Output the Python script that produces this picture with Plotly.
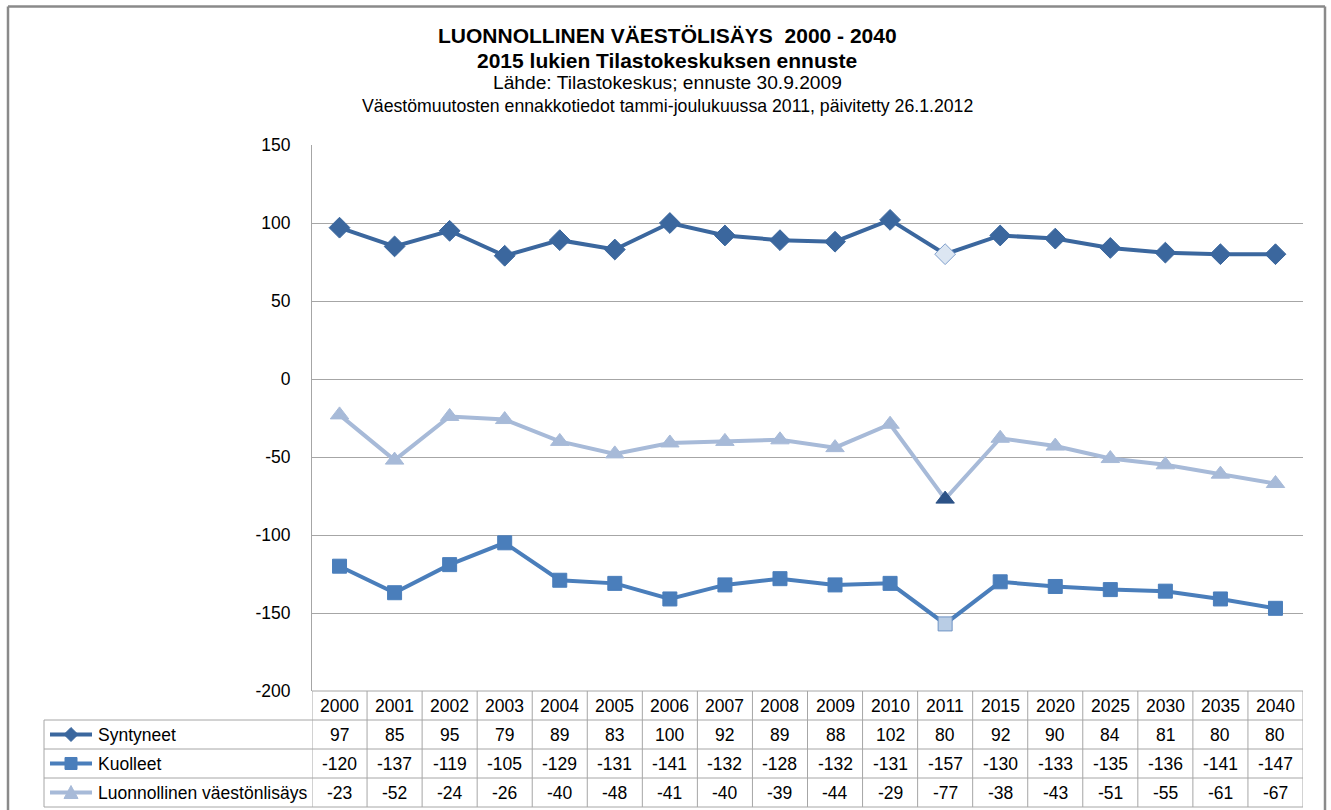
import plotly.graph_objects as go

# ---------------- data ----------------
years = ["2000", "2001", "2002", "2003", "2004", "2005", "2006", "2007", "2008",
         "2009", "2010", "2011", "2015", "2020", "2025", "2030", "2035", "2040"]
syntyneet = [97, 85, 95, 79, 89, 83, 100, 92, 89, 88, 102, 80, 92, 90, 84, 81, 80, 80]
kuolleet = [-120, -137, -119, -105, -129, -131, -141, -132, -128, -132, -131, -157,
            -130, -133, -135, -136, -141, -147]
lisays = [-23, -52, -24, -26, -40, -48, -41, -40, -39, -44, -29, -77, -38, -43, -51,
          -55, -61, -67]
series_names = ["Syntyneet", "Kuolleet", "Luonnollinen väestönlisäys"]
y_ticks = [150, 100, 50, 0, -50, -100, -150, -200]
y_tick_labels = ["150", "100", "50", "0", "-50", "-100", "-150", "-200"]
special_year = "2011"

title_lines = [
    ("LUONNOLLINEN VÄESTÖLISÄYS  2000 - 2040", True, 21),
    ("2015 lukien Tilastokeskuksen ennuste", True, 21),
    ("Lähde: Tilastokeskus; ennuste 30.9.2009", False, 19.2),
    ("Väestömuutosten ennakkotiedot tammi-joulukuussa 2011, päivitetty 26.1.2012", False, 17.7),
]

# ---------------- geometry helpers (screen pixels) ----------------
FW, FH = 1331, 810
L, R, T, B = 312, 1303, 145, 691   # plot area in px
PW, PH = R - L, B - T


def px_x(px):
    return (px - L) / PW


def px_y(py):
    return (B - py) / PH


FONT = "Liberation Sans, Arial, sans-serif"
C_SYN = "#3b679e"
C_KUO = "#4a7ebb"
C_LIS = "#a7bad8"
GRID = "#a6a6a6"
TABLE = "#a6a6a6"
FS = 17.5

si = years.index(special_year)


def colors(base, special):
    return [special if i == si else base for i in range(len(years))]


fig = go.Figure()

fig.add_trace(go.Scatter(
    x=years, y=syntyneet, mode="lines+markers", name=series_names[0],
    line=dict(color=C_SYN, width=4),
    marker=dict(symbol="diamond", size=16, color=colors(C_SYN, "#dce6f2"),
                line=dict(width=1, color=colors(C_SYN, "#7f9fcc"))),
    cliponaxis=False, showlegend=False))

fig.add_trace(go.Scatter(
    x=years, y=kuolleet, mode="lines+markers", name=series_names[1],
    line=dict(color=C_KUO, width=4),
    marker=dict(symbol="square", size=14, color=colors(C_KUO, "#b9cde5"),
                line=dict(width=1, color=colors(C_KUO, "#6f93c4"))),
    cliponaxis=False, showlegend=False))

fig.add_trace(go.Scatter(
    x=years, y=lisays, mode="lines+markers", name=series_names[2],
    line=dict(color=C_LIS, width=4),
    marker=dict(symbol="triangle-up", size=16, color=colors(C_LIS, "#2c5286"),
                line=dict(width=1, color=colors(C_LIS, "#2c5286"))),
    cliponaxis=False, showlegend=False))

shapes = []
annotations = []

# outer frame
for (x0, y0, x1, y1) in [(8, 6.5, 8, 812), (8, 6.5, 1325, 6.5), (1325, 6.5, 1325, 812)]:
    shapes.append(dict(type="line", xref="paper", yref="paper",
                       x0=px_x(x0), y0=px_y(y0), x1=px_x(x1), y1=px_y(y1),
                       line=dict(color="#8a8a8a", width=2.5), layer="above"))

# table geometry
row_edges = [691, 720, 749, 778, 807]
tbl_left = 44

# vertical lines between columns (in data coords)
for i in range(len(years) + 1):
    shapes.append(dict(type="line", xref="x", yref="paper",
                       x0=i - 0.5, x1=i - 0.5, y0=px_y(row_edges[0]), y1=px_y(row_edges[-1]),
                       line=dict(color=TABLE, width=1)))
# left border of legend column
shapes.append(dict(type="line", xref="paper", yref="paper",
                   x0=px_x(tbl_left), x1=px_x(tbl_left), y0=px_y(row_edges[1]), y1=px_y(row_edges[-1]),
                   line=dict(color=TABLE, width=1)))
# horizontal lines
for j, ye in enumerate(row_edges):
    xl = L if j == 0 else tbl_left
    shapes.append(dict(type="line", xref="paper", yref="paper",
                       x0=px_x(xl), x1=px_x(R), y0=px_y(ye), y1=px_y(ye),
                       line=dict(color=TABLE, width=1)))

TF = dict(family=FONT, size=FS, color="black")

# header years
hc = (row_edges[0] + row_edges[1]) / 2
for i, yr in enumerate(years):
    annotations.append(dict(x=i, xref="x", y=px_y(hc), yref="paper", text=yr,
                            showarrow=False, font=TF, xanchor="center", yanchor="middle"))

# data rows
all_series = [syntyneet, kuolleet, lisays]
series_colors = [C_SYN, C_KUO, C_LIS]
for r, vals in enumerate(all_series):
    rc = (row_edges[r + 1] + row_edges[r + 2]) / 2
    for i, v in enumerate(vals):
        annotations.append(dict(x=i, xref="x", y=px_y(rc), yref="paper", text=str(v),
                                showarrow=False, font=TF, xanchor="center", yanchor="middle"))
    annotations.append(dict(x=px_x(96), xref="paper", y=px_y(rc), yref="paper",
                            text=series_names[r], showarrow=False, font=TF,
                            xanchor="left", yanchor="middle"))
    # legend sample line
    shapes.append(dict(type="line", xref="paper", yref="paper",
                       x0=px_x(50), x1=px_x(92), y0=px_y(rc), y1=px_y(rc),
                       line=dict(color=series_colors[r], width=4)))
    cx, cy = 71, rc
    if r == 0:
        pts = [(cx, cy - 7), (cx + 7, cy), (cx, cy + 7), (cx - 7, cy)]
    elif r == 1:
        pts = [(cx - 6, cy - 6), (cx + 6, cy - 6), (cx + 6, cy + 6), (cx - 6, cy + 6)]
    else:
        pts = [(cx, cy - 7), (cx + 7, cy + 6), (cx - 7, cy + 6)]
    path = "M " + " L ".join(f"{px_x(a):.5f},{px_y(b):.5f}" for a, b in pts) + " Z"
    shapes.append(dict(type="path", xref="paper", yref="paper", path=path,
                       fillcolor=series_colors[r], line=dict(color=series_colors[r], width=1)))

# titles
title_y = [35, 60, 83, 106]
for (txt, bold, size), ty in zip(title_lines, title_y):
    annotations.append(dict(x=px_x(667), xref="paper", y=px_y(ty), yref="paper",
                            text=f"<b>{txt}</b>" if bold else txt, showarrow=False,
                            font=dict(family=FONT, size=size, color="black"),
                            xanchor="center", yanchor="middle"))

fig.update_layout(
    width=FW, height=FH, autosize=False,
    margin=dict(l=L, r=FW - R, t=T, b=FH - B, pad=0),
    paper_bgcolor="white", plot_bgcolor="white",
    font=dict(family=FONT, size=FS, color="black"),
    shapes=shapes, annotations=annotations,
    xaxis=dict(type="category", categoryorder="array", categoryarray=years,
               range=[-0.5, len(years) - 0.5], showticklabels=False, showgrid=False,
               zeroline=False, showline=False, ticks=""),
    yaxis=dict(range=[-200, 150], tickvals=y_ticks, ticktext=y_tick_labels,
               showgrid=True, gridcolor=GRID,
               gridwidth=1, zeroline=False, showline=True, linecolor=GRID, linewidth=1,
               ticks="", ticklabelstandoff=17, automargin=False,
               tickfont=dict(family=FONT, size=FS, color="black")),
)

fig.write_html(
    "out.html",
    config={"displayModeBar": False},
    post_script="document.body.style.margin='0';document.body.style.overflow='hidden';",
)
